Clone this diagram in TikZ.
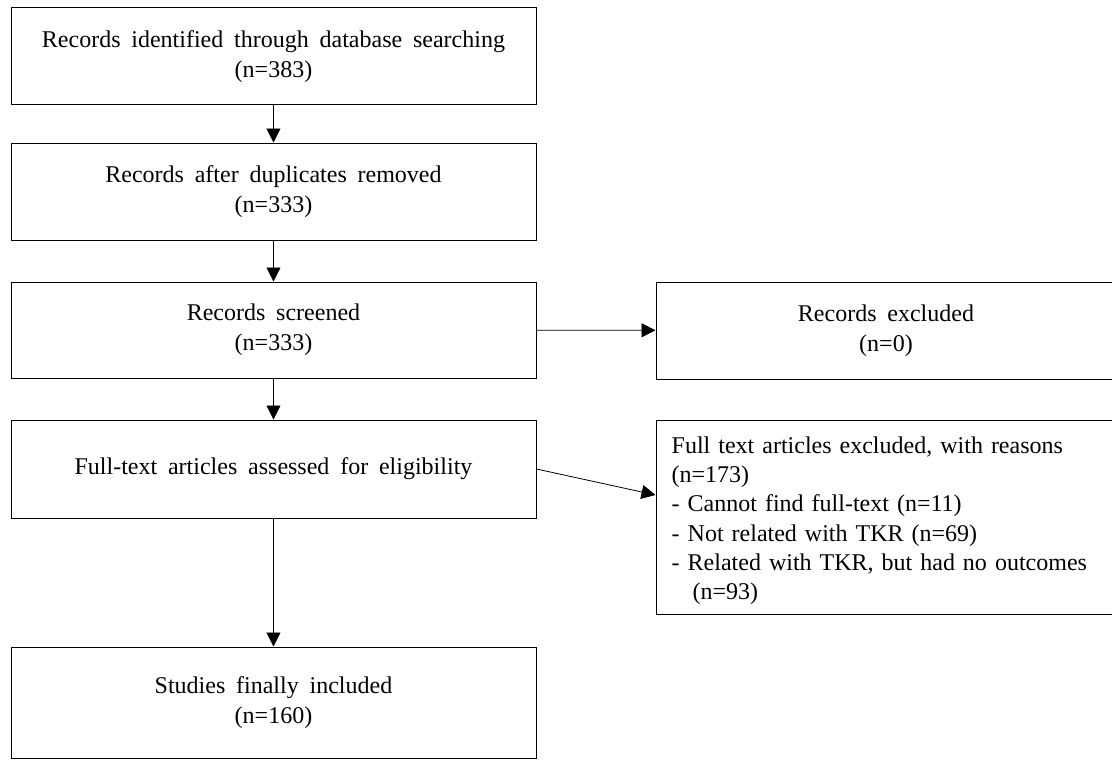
\documentclass[tikz,border=0pt]{standalone}
\usepackage{fontspec}
\setmainfont{Liberation Serif}
\usetikzlibrary{arrows.meta}
\newcommand\widesp{\spaceskip=0.45em\relax}
\begin{document}
\begin{tikzpicture}[x=1pt,y=-1pt,
  box/.style={draw=black, line width=1pt, inner sep=0pt, align=center, font=\fontsize{24}{30}\selectfont\widesp},
  plain/.style={draw=black, line width=1pt, inner sep=0pt},
  btext/.style={inner sep=0pt, text width=436pt, align=left, font=\fontsize{24}{29.3}\selectfont\widesp},
  arr/.style={-{Triangle[length=14pt,width=14pt]}, line width=0.8pt}]
\useasboundingbox (0,0) rectangle (1112,760);
\node[box, minimum width=525pt, minimum height=97pt] (b1) at (273.5,56.5) {Records identified through database searching\\(n=383)};
\node[box, minimum width=525pt, minimum height=97pt] (b2) at (273.5,191.5) {Records after duplicates removed\\(n=333)};
\node[box, minimum width=525pt, minimum height=96pt] (b3) at (273.5,330) {Records screened\\(n=333)};
\node[box, minimum width=525pt, minimum height=98pt] (b4) at (273.5,469) {Full-text articles assessed for eligibility};
\node[box, minimum width=525pt, minimum height=111pt] (b5) at (273.5,702.5) {Studies finally included\\(n=160)};
\node[box, minimum width=460pt, minimum height=97pt] (bA) at (886,330.5) {Records excluded\\(n=0)};
\node[plain, minimum width=460pt, minimum height=194pt] (bB) at (886,517) {};
\node[btext, anchor=north west] (bBt) at ([xshift=16pt,yshift=-17pt]bB.north west)
  {Full text articles excluded, with reasons\\
   (n=173)\\
   - Cannot find full-text (n=11)\\
   - Not related with TKR (n=69)\\
   - Related with TKR, but had no outcomes\\
   \hspace*{21pt}(n=93)};
\draw[arr] (b1) -- (b2);
\draw[arr] (b2) -- (b3);
\draw[arr] (b3) -- (b4);
\draw[arr] (b4) -- (b5);
\draw[arr] (b3) -- (bA);
\draw[arr] (b4.east) -- ([yshift=22pt]bB.west);
\end{tikzpicture}
\end{document}
